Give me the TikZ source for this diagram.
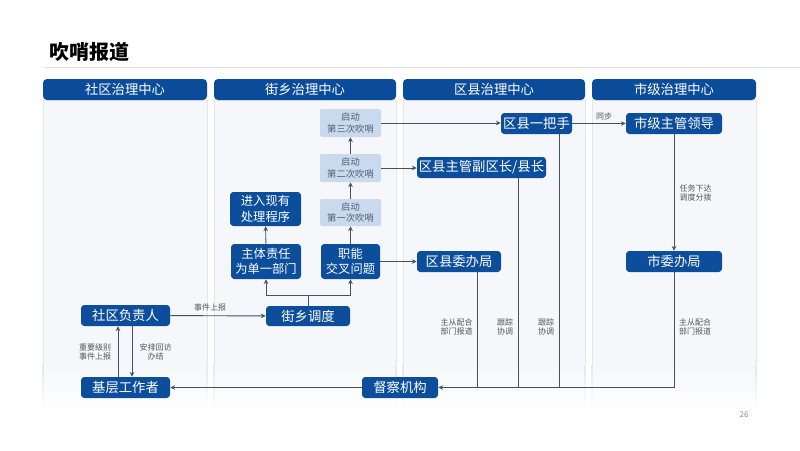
\documentclass[tikz,border=0pt]{standalone}
\usepackage{fontspec}
\newfontfamily\cjk{Noto Sans CJK SC}
\usetikzlibrary{arrows.meta}
\definecolor{nb}{HTML}{0C4E9C}
\definecolor{hb}{HTML}{0B4C9A}
\definecolor{lb}{HTML}{C9D9EE}
\definecolor{lt}{HTML}{4F6072}
\definecolor{ln}{HTML}{44525F}
\definecolor{body}{HTML}{F5F7FA}
\definecolor{bodyl}{HTML}{E2E7EE}
\definecolor{lab}{HTML}{555555}
\tikzset{
  wh/.style 2 args={minimum width=#1*0.75pt, minimum height=#2*0.75pt},
  bluebox/.style={fill=nb, text=white, rounded corners=2.5pt, inner sep=0pt, align=center,
    font=\cjk\fontsize{10}{12}\selectfont},
  bluesm/.style={bluebox, font=\cjk\fontsize{9.2}{11.5}\selectfont},
  lightbox/.style={fill=lb, text=lt, rounded corners=1.5pt, inner sep=0pt, align=center,
    font=\cjk\fontsize{7}{8.6}\selectfont},
  lbl/.style={text=lab, align=center, inner sep=0pt, font=\cjk\fontsize{6}{7.4}\selectfont},
  arr/.style={draw=ln, line width=0.7pt, -{Stealth[length=3.6pt,width=3.4pt]}},
  con/.style={draw=ln, line width=0.7pt},
  hdr/.style={text=white, font=\cjk\fontsize{10}{12}\selectfont, inner sep=0pt},
}
\begin{document}
\begin{tikzpicture}[x=0.75pt,y=-0.75pt]
\useasboundingbox (0,0) rectangle (800,450);
\fill[white] (0,0) rectangle (800,450);
% title
\node[anchor=west, inner sep=0pt, font=\cjk\bfseries\fontsize{15}{18}\selectfont] (title) at (49,52) {吹哨报道};
\draw[color=black!12, line width=0.6pt] (45,67) -- (800,67);
% columns
\foreach \xa/\xb/\t [count=\i] in {43/207/社区治理中心, 214/396/街乡治理中心, 403/585/区县治理中心, 592/756/市级治理中心}{
  \fill[body] (\xa,100) rectangle (\xb,365);
  \shade[top color=body, bottom color=white] (\xa,364.5) rectangle (\xb,412);
  \shade[top color=bodyl, bottom color=white] (\xa-0.35,365) rectangle (\xa+0.35,410);
  \shade[top color=bodyl, bottom color=white] (\xb-0.35,365) rectangle (\xb+0.35,410);
  \draw[bodyl, line width=0.5pt] (\xa,365) -- (\xa,100) -- (\xb,100) -- (\xb,365);
  \fill[hb, rounded corners=3pt] (\xa,100) -- (\xa,79) -- (\xb,79) -- (\xb,100) -- cycle;
  \node[hdr] (h\i) at ({(\xa+\xb)/2},89.5) {\t};
}
% nodes
\node[bluebox, wh={89}{21}] (sq) at (125.5,315.5) {社区负责人};
\node[bluebox, wh={89}{21}] (jc) at (125.5,387.5) {基层工作者};
\node[bluebox, wh={84}{20}] (jx) at (308,316) {街乡调度};
\node[bluesm, wh={70}{35}] (zt) at (266,261.5) {主体责任\\为单一部门};
\node[bluesm, wh={59}{35}] (zn) at (350.5,261.5) {职能\\交叉问题};
\node[bluesm, wh={71}{34}] (jr) at (265.5,209) {进入现有\\处理程序};
\node[lightbox, wh={61}{28}] (q3) at (350.5,123) {启动\\第三次吹哨};
\node[lightbox, wh={61}{28}] (q2) at (350.5,168) {启动\\第二次吹哨};
\node[lightbox, wh={61}{27}] (q1) at (350.5,212.5) {启动\\第一次吹哨};
\node[bluebox, wh={71}{21}] (yb) at (536.5,123.5) {区县一把手};
\node[bluebox, wh={129}{21}] (fq) at (481.5,167.5) {区县主管副区长/县长};
\node[bluebox, wh={84}{21}] (wb) at (459,261.5) {区县委办局};
\node[bluebox, wh={96}{21}] (sl) at (674,123.5) {市级主管领导};
\node[bluebox, wh={96}{21}] (sj) at (674,261.5) {市委办局};
\node[bluebox, wh={76}{21}] (dc) at (400,387.5) {督察机构};
% connectors
\coordinate (ua) at (118,350);
\coordinate (da) at (132,350);
\draw[arr] (jc.north -| ua) -- (sq.south -| ua);
\draw[arr] (sq.south -| da) -- (jc.north -| da);
\node[lbl] (l1) at (95,352) {重要级别\\事件上报};
\node[lbl] (l2) at (155.5,352) {安排回访\\办结};
\draw[arr] (sq) -- (jx);
\node[lbl] (l3) at (210,307.5) {事件上报};
\coordinate (br) at (308,295);
\draw[con] (jx.north) -- (br);
\draw[arr] (br) -| (zt.south);
\draw[arr] (br) -| (zn.south);
\draw[arr] (zt) -- (jr);
\draw[arr] (zn) -- (q1);
\draw[arr] (q1) -- (q2);
\draw[arr] (q2) -- (q3);
\draw[arr] (q3.east) -- (q3.east -| yb.west);
\draw[arr] (q2.east) -- (q2.east -| fq.west);
\draw[arr] (zn.east) -- (zn.east -| wb.west);
\draw[arr] (yb.east |- sl.west) -- (sl.west);
\node[lbl] (l4) at (604,116.5) {同步};
\draw[arr] (sl) -- (sj);
\node[lbl] (l5) at (695.5,193) {任务下达\\调度分拨};
\draw[arr] (sj.south) |- (dc.east);
\coordinate (j1) at (477,387.5);
\coordinate (j2) at (518,387.5);
\coordinate (j3) at (559,387.5);
\draw[con] (wb.south -| j1) -- (j1);
\draw[con] (fq.south -| j2) -- (j2);
\draw[con] (yb.south -| j3) -- (j3);
\node[lbl] (l6) at (456.5,327) {主从配合\\部门报道};
\node[lbl] (l7) at (505,327) {跟踪\\协调};
\node[lbl] (l8) at (546,327) {跟踪\\协调};
\node[lbl] (l9) at (695,327) {主从配合\\部门报道};
\draw[arr] (dc) -- (jc);
\node[lbl, text=black!45] (pg) at (744,415) {26};
\end{tikzpicture}
\end{document}
